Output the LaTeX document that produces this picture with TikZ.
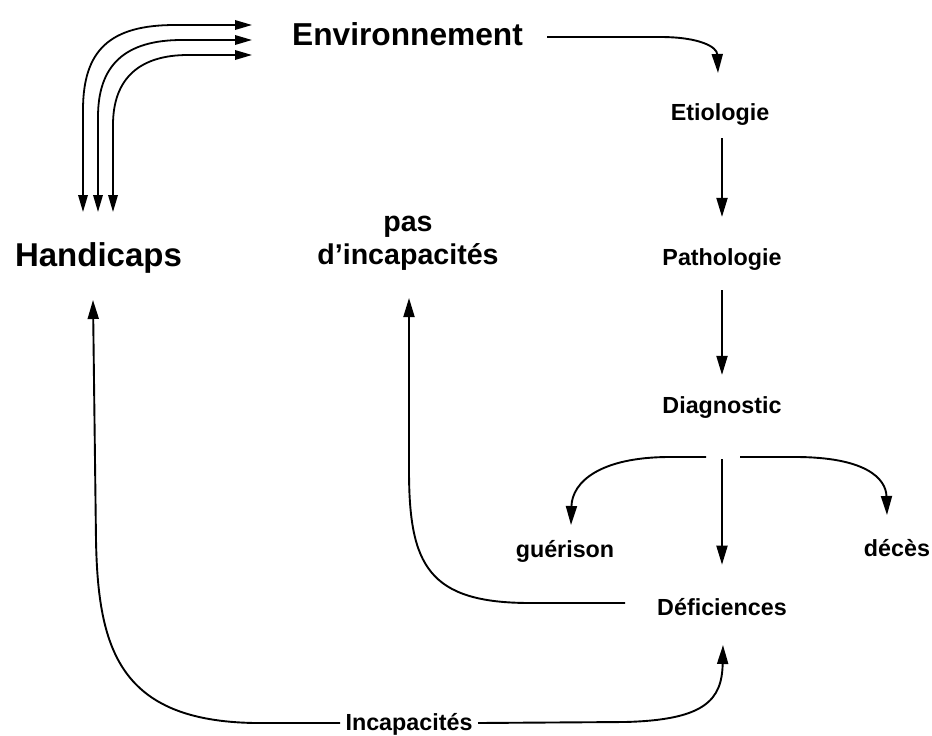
\documentclass[tikz,border=0pt]{standalone}
\usepackage{fontspec}
\setmainfont{Liberation Sans}
\usetikzlibrary{arrows.meta}
\begin{document}
\begin{tikzpicture}[x=1pt,y=-1pt,
  lbl/.style={inner sep=0pt, font=\bfseries\fontsize{23.3}{28}\selectfont},
  arr/.style={line width=1.9pt, -{Triangle[length=19pt,width=11pt]}},
  darr/.style={line width=1.8pt, {Triangle[length=17pt,width=9.5pt]}-{Triangle[length=17pt,width=9.5pt]}}]
\useasboundingbox (0,0) rectangle (932,736);
\fill[white] (0,0) rectangle (932,736);

\node[lbl, font=\bfseries\fontsize{31.7}{36}\selectfont, anchor=base] (env) at (407.5,45) {Environnement};
\node[lbl, font=\bfseries\fontsize{33}{38}\selectfont, anchor=base] (hand) at (98.5,266) {Handicaps};
\node[lbl, font=\bfseries\fontsize{28.6}{33}\selectfont, align=center, anchor=south] (pas) at (408,271) {pas\\d’incapacités};
\node[lbl, anchor=base] (etio) at (720,120) {Etiologie};
\node[lbl, anchor=base] (patho) at (722,265) {Pathologie};
\node[lbl, anchor=base] (diag) at (722,413) {Diagnostic};
\node[lbl, anchor=base] (guer) at (565,557) {guérison};
\node[lbl, anchor=base] (deces) at (897,556) {décès};
\node[lbl, anchor=base] (defic) at (722,615) {Déficiences};
\node[lbl, anchor=base] (incap) at (409,730) {Incapacités};

% free ends
\coordinate (envout) at (547,37);
\coordinate (etioin) at (718,73);
\coordinate (diagL) at (706,457);
\coordinate (diagR) at (740,457);
\coordinate (guerin) at (571,525);
\coordinate (decesin) at (887,515);
\coordinate (deficout) at (625,603);
\coordinate (pasin) at (409,298);
\coordinate (incL) at (340,723);
\coordinate (incR) at (478,723);
\coordinate (handin) at (93,300);
\coordinate (deficin) at (723,645);

% Environnement -> Etiologie
\draw[arr] (envout) -- (660,37) .. controls (700,37) and (717,47) .. (etioin);

% vertical chain
\draw[arr, shorten <=13pt, shorten >=31pt] (etio.south -| patho.north) -- (patho.north);
\draw[arr, shorten <=20pt, shorten >=21pt] (patho.south) -- (diag.north);
\draw[arr, shorten <=41pt, shorten >=33pt] (diag.south) -- (defic.north);

% branches from Diagnostic
\draw[arr] (diagL) -- (670,457) .. controls (600,457) and (572,482) .. (guerin);
\draw[arr] (diagR) -- (795,457) .. controls (865,457) and (886,478) .. (decesin);

% Deficiences -> pas d'incapacites
\draw[arr] (deficout) -- (530,603) .. controls (428,603) and (409,565) .. (409,470) -- (pasin);

% Incapacites -> Handicaps / Deficiences
\draw[arr] (incL) -- (255,723) .. controls (120,721) and (98,650) .. (96,540) -- (handin);
\draw[arr] (incR) -- (625,722) .. controls (705,720) and (722,700) .. (deficin);

% Handicaps <-> Environnement
\draw[darr] (83,212) -- (83,110) .. controls (83,50) and (110,25) .. (175,25) -- (252,25);
\draw[darr] (98,212) -- (98,117) .. controls (98,65) and (125,40) .. (182,40) -- (252,40);
\draw[darr] (113,212) -- (113,125) .. controls (113,78) and (140,55) .. (188,55) -- (252,55);
\end{tikzpicture}
\end{document}
